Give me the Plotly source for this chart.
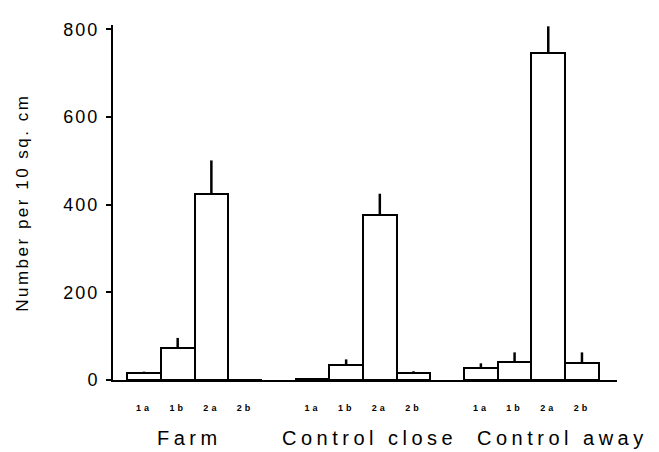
import plotly.graph_objects as go

groups = ["Farm", "Control close", "Control away"]
categories = ["1a", "1b", "2a", "2b"]
farm = [16, 74, 425, 1]
control_close = [2, 34, 377, 16]
control_away = [27, 40, 746, 38]
farm_err = [3, 22, 76, 0]
control_close_err = [0, 13, 48, 4]
control_away_err = [11, 23, 61, 25]
y_ticks = [0, 200, 400, 600, 800]

values = [farm, control_close, control_away]
errors = [farm_err, control_close_err, control_away_err]

n_cat = len(categories)
slot = n_cat + 1  # one empty slot between groups

xs, ys, es, tick_pos, tick_txt = [], [], [], [], []
for gi, (vals, errs) in enumerate(zip(values, errors)):
    for ci, (v, e) in enumerate(zip(vals, errs)):
        pos = gi * slot + ci
        xs.append(pos)
        ys.append(v)
        es.append(e)
        tick_pos.append(pos)
        tick_txt.append('<b><span style="letter-spacing:3px">' + categories[ci] + '</span></b>')

FONT = "Liberation Sans, Arial, sans-serif"

fig = go.Figure()
fig.add_trace(go.Bar(
    x=xs, y=ys, width=1,
    marker=dict(color="white", line=dict(color="black", width=2)),
    error_y=dict(type="data", array=es, arrayminus=[0] * len(es), symmetric=False,
                 width=0, thickness=2.5, color="black"),
    showlegend=False,
))

annotations = []
group_shift = [-5, 7, 31]
for gi, g in enumerate(groups):
    center = gi * slot + (n_cat - 1) / 2
    annotations.append(dict(
        x=center, xref="x", y=-0.164, yref="paper",
        text='<span style="letter-spacing:4.5px">' + g + '</span>',
        showarrow=False, xanchor="center", yanchor="middle", xshift=group_shift[gi],
        font=dict(family=FONT, size=20, color="black"),
    ))
annotations.append(dict(
    x=-0.18, xref="paper", y=0.5, yref="paper", textangle=-90,
    text='<span style="letter-spacing:2.5px">Number per 10 sq. cm</span>',
    showarrow=False, xanchor="center", yanchor="middle",
    font=dict(family=FONT, size=17, color="black"),
))

fig.update_layout(
    width=651, height=444,
    margin=dict(l=105, r=42, t=12, b=72),
    paper_bgcolor="white", plot_bgcolor="white",
    font=dict(family=FONT, color="black"),
    annotations=annotations,
    bargap=0,
)
fig.update_xaxes(
    range=[-0.92, 14.04],
    tickmode="array", tickvals=tick_pos, ticktext=tick_txt,
    tickfont=dict(size=9, color="black", family=FONT),
    ticks="", showline=True, linecolor="black", linewidth=2,
    showgrid=False, zeroline=False, ticklabelstandoff=18,
)
fig.update_yaxes(
    range=[0, 810],
    tickmode="array", tickvals=y_ticks,
    ticktext=['<span style="letter-spacing:2px">' + str(t) + '</span>' for t in y_ticks],
    tickfont=dict(size=18, color="black", family=FONT),
    ticks="outside", ticklen=5, tickwidth=1.5, tickcolor="black",
    showline=True, linecolor="black", linewidth=2,
    showgrid=False, zeroline=False, ticklabelstandoff=3,
)

fig.write_html("out.html")
